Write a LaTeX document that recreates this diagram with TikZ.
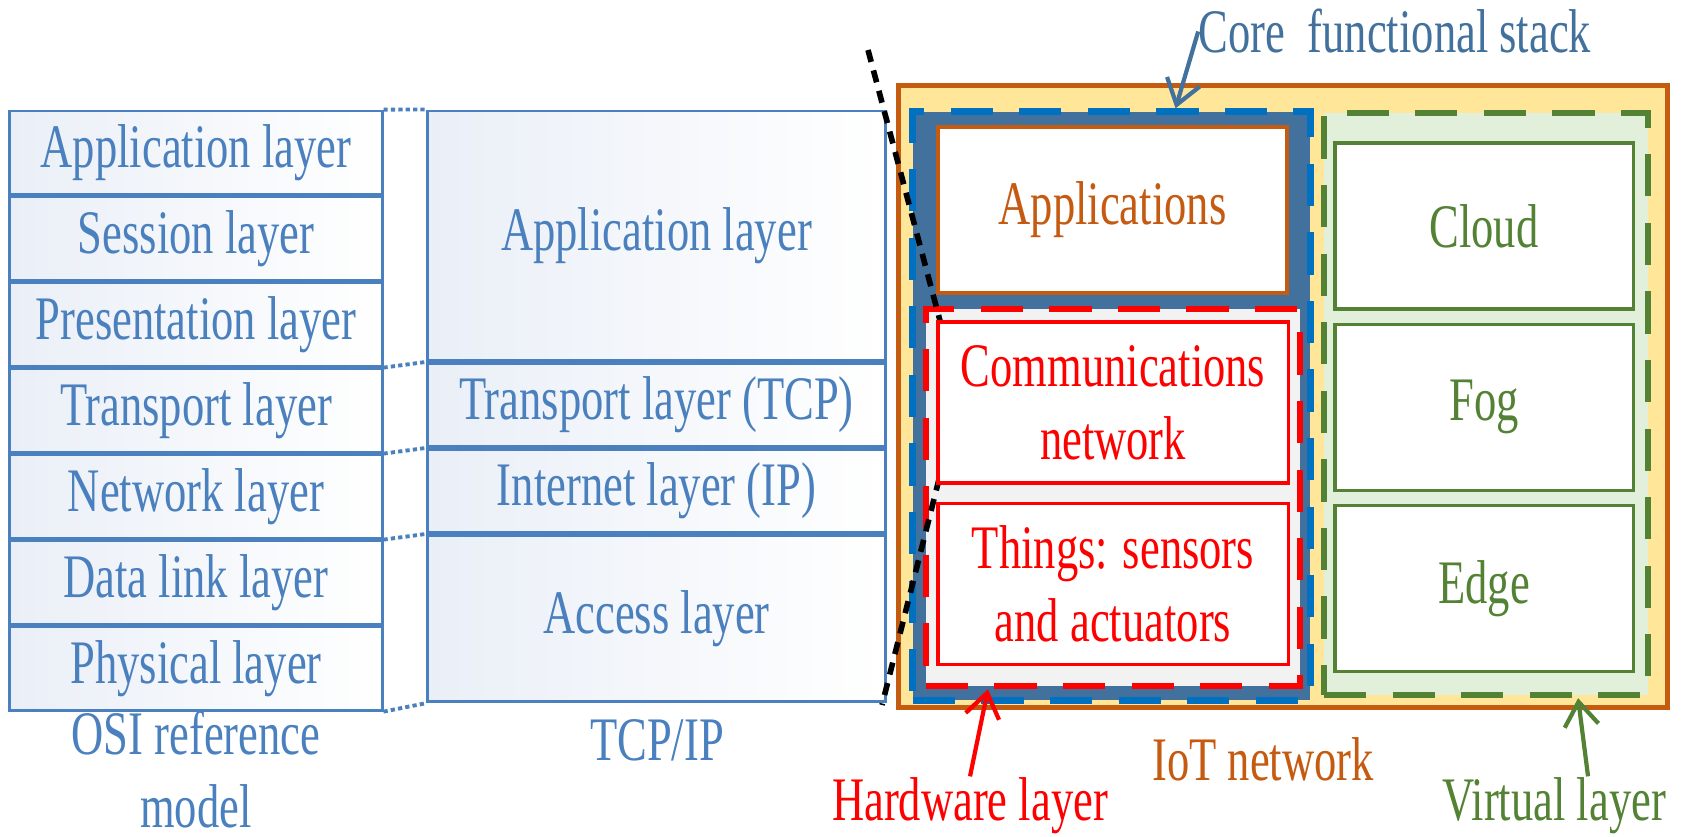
\documentclass[tikz,border=0pt]{standalone}
\usepackage{fontspec}
\setmainfont{Liberation Serif}[FakeStretch=0.72]
\usepackage{xcolor}
\usepackage{tikz}
\usetikzlibrary{arrows.meta, positioning}

\definecolor{osiblue}{HTML}{4A80BE}
\definecolor{osifill}{HTML}{EAEFF7}
\definecolor{iotorange}{HTML}{C55A11}
\definecolor{iotyellow}{HTML}{FFE699}
\definecolor{coreblue}{HTML}{41719C}
\definecolor{coredash}{HTML}{0070C0}
\definecolor{hwgray}{HTML}{F2F2F2}
\definecolor{virtgreen}{HTML}{548235}
\definecolor{virtfill}{HTML}{E2EFDA}

\newcommand{\layerfont}{\fontsize{17.6}{20.8}\selectfont}

\begin{document}
\begin{tikzpicture}[
    x=0.01cm, y=-0.01cm,
    node distance=0pt,
    font=\layerfont,
    osibox/.style={rectangle, draw=osiblue, line width=0.8pt, left color=osifill, right color=white, text=osiblue, minimum width=3.72cm, minimum height=0.8314cm, inner sep=0pt},
    tcpbox/.style={osibox, minimum width=4.57cm},
    dotlink/.style={osiblue, line width=1.1pt, dash pattern=on 1.2pt off 0.9pt},
    longdash/.style={dash pattern=on 12pt off 7.5pt},
    layerbox/.style={rectangle, fill=white, line width=0.9pt, align=center, inner sep=0pt},
    hwitem/.style={layerbox, draw=red, text=red, minimum width=3.5cm, minimum height=1.61cm},
    virtitem/.style={layerbox, draw=virtgreen, text=virtgreen, minimum width=2.98cm, minimum height=1.66cm},
    lbl/.style={anchor=base, inner sep=0pt},
    ptr/.style={line width=1.2pt, -{Straight Barb[length=2.4mm, width=3.4mm]}},
]
\useasboundingbox (0,0) rectangle (1692,837);

% OSI reference model
\node[osibox] (osiapp) at (196,152.6) {Application layer};
\node[osibox, below=of osiapp]   (osisess)  {Session layer};
\node[osibox, below=of osisess]  (osipres)  {Presentation layer};
\node[osibox, below=of osipres]  (ositrans) {Transport layer};
\node[osibox, below=of ositrans] (osinet)   {Network layer};
\node[osibox, below=of osinet]   (osilink)  {Data link layer};
\node[osibox, below=of osilink]  (osiphys)  {Physical layer};

% TCP/IP
\node[tcpbox, minimum height=2.494cm] (tcpapp) at (656.5,235.7) {Application layer};
\node[tcpbox, below=of tcpapp]   (tcptrans) {Transport layer (TCP)};
\node[tcpbox, below=of tcptrans] (tcpnet)   {Internet layer (IP)};
\node[tcpbox, below=of tcpnet, minimum height=1.663cm] (tcpacc) {Access layer};

\draw[dotlink] (osiapp.north east)   -- (tcpapp.north west);
\draw[dotlink] (osipres.south east)  -- (tcptrans.north west);
\draw[dotlink] (ositrans.south east) -- (tcpnet.north west);
\draw[dotlink] (osinet.south east)   -- (tcpacc.north west);
\draw[dotlink] (osiphys.south east)  -- (tcpacc.south west);

\node[text=osiblue, align=center, anchor=north, inner sep=0pt] (osilbl) at (196,710) {OSI reference\\model};
\node[lbl, text=osiblue] (tcplbl) at (657,760) {TCP/IP};

% IoT network
\node[draw=iotorange, fill=iotyellow, line width=1.4pt, minimum width=7.68cm, minimum height=6.21cm] (iot) at (1283,396.5) {};
\node[draw=coredash, fill=coreblue, line width=2pt, longdash, minimum width=3.97cm, minimum height=5.88cm] (core) at (1111.5,406) {};
\node[draw=red, fill=hwgray, line width=1.8pt, longdash, minimum width=3.74cm, minimum height=3.77cm] (hw) at (1113,497.5) {};
\node[draw=virtgreen, fill=virtfill, line width=1.7pt, longdash, minimum width=3.24cm, minimum height=5.82cm] (virt) at (1486,404) {};

% dividing line
\coordinate (cuttop)  at (868,50);
\coordinate (cutbend) at (960,396);
\coordinate (cutbot)  at (882,705);
\draw[black, line width=1.6pt, dash pattern=on 3.5pt off 2.5pt] (cuttop) -- (cutbend) -- (cutbot);

\node[layerbox, draw=iotorange, text=iotorange, line width=1.3pt, minimum width=3.49cm, minimum height=1.66cm] (apps) at (1112.5,210) {Applications};
\node[hwitem] (comm) at (1113,402.5) {Communications\\network};
\node[hwitem, below=0.17cm of comm] (things) {Things: sensors\\and actuators};

\node[virtitem] (cloud) at (1484,226) {Cloud};
\node[virtitem, below=0.12cm of cloud] (fog)  {Fog};
\node[virtitem, below=0.12cm of fog]   (edge) {Edge};

% captions
\node[lbl, text=coreblue]  (corelbl) at (1395,53)  {Core~~functional stack};
\node[lbl, text=red]       (hwlbl)   at (970,820)  {Hardware layer};
\node[lbl, text=iotorange] (iotlbl)  at (1263,780) {IoT network};
\node[lbl, text=virtgreen] (virtlbl) at (1554,820) {Virtual layer};

\draw[ptr, coreblue]  (corelbl.west) -- ([xshift=0.64cm]core.north);
\draw[ptr, red]       (hwlbl.north) -- ([xshift=-1.25cm]hw.south);
\draw[ptr, virtgreen] ([xshift=0.34cm]virtlbl.north) -- ([xshift=0.92cm]virt.south);

\end{tikzpicture}
\end{document}
